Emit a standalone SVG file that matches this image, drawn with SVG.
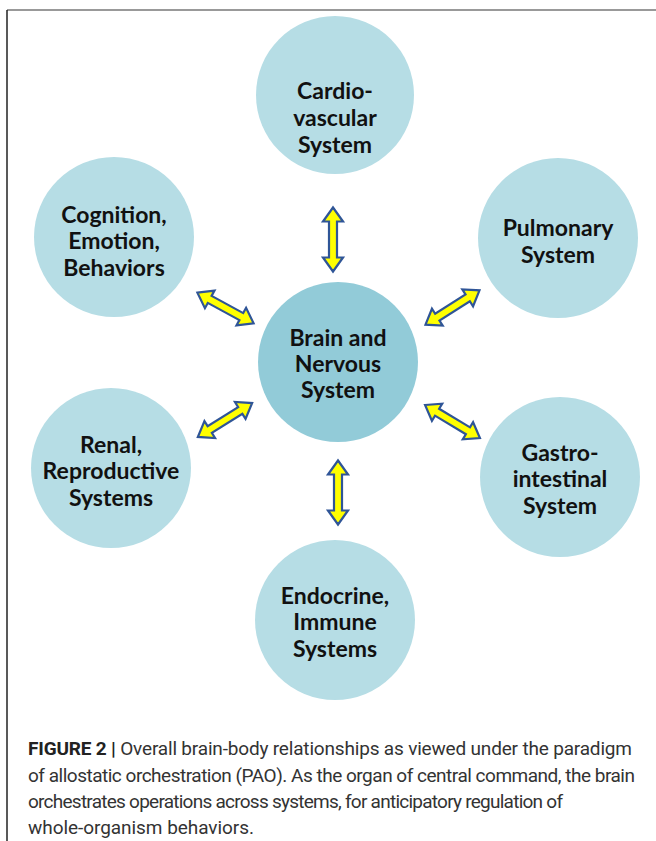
<svg xmlns="http://www.w3.org/2000/svg" width="656" height="841" viewBox="0 0 656 841">
  <style>
    .sys { fill: #b6dde5; }
    .core { fill: #92cbd8; }
    .lbl { font-family: Lato, "Open Sans", "Liberation Sans", sans-serif; font-weight: bold; font-size: 23px; fill: #111; text-anchor: middle; }
    .cap { font-family: Roboto, "Liberation Sans", sans-serif; font-size: 19px; fill: #333; }
    .cap-b { font-weight: bold; fill: #222; }
    .dbl { fill: #ffff00; stroke: #2f5597; stroke-width: 2.2; stroke-linejoin: miter; }
  </style>
  <defs>
    <!-- double-headed block arrow, centred at origin, pointing along x -->
    <path id="dbl" class="dbl" d="M-32,0 L-18,-10 L-18,-4 L18,-4 L18,-10 L32,0 L18,10 L18,4 L-18,4 L-18,10 Z"/>
  </defs>

  <rect x="0" y="0" width="656" height="841" fill="#ffffff"/>
  <!-- frame -->
  <line x1="7" y1="10" x2="656" y2="10" stroke="#777" stroke-width="1.5"/>
  <line x1="7" y1="10" x2="7" y2="841" stroke="#222" stroke-width="1.5"/>

  <g id="cardiovascular">
    <circle class="sys" cx="335" cy="95" r="79"/>
    <text class="lbl"><tspan x="335" y="99">Cardio-</tspan><tspan x="335" y="126">vascular</tspan><tspan x="335" y="153">System</tspan></text>
  </g>
  <g id="cognition">
    <circle class="sys" cx="114" cy="237" r="80"/>
    <text class="lbl"><tspan x="114" y="223">Cognition,</tspan><tspan x="114" y="249">Emotion,</tspan><tspan x="114" y="276">Behaviors</tspan></text>
  </g>
  <g id="pulmonary">
    <circle class="sys" cx="558" cy="238" r="80"/>
    <text class="lbl"><tspan x="558" y="236">Pulmonary</tspan><tspan x="558" y="263">System</tspan></text>
  </g>
  <g id="brain">
    <circle class="core" cx="338" cy="362" r="80"/>
    <text class="lbl"><tspan x="338" y="346">Brain and</tspan><tspan x="338" y="372">Nervous</tspan><tspan x="338" y="398">System</tspan></text>
  </g>
  <g id="renal">
    <circle class="sys" cx="111" cy="468" r="80"/>
    <text class="lbl"><tspan x="111" y="453">Renal,</tspan><tspan x="111" y="479">Reproductive</tspan><tspan x="111" y="506">Systems</tspan></text>
  </g>
  <g id="gastrointestinal">
    <circle class="sys" cx="560" cy="477" r="80"/>
    <text class="lbl"><tspan x="560" y="461">Gastro-</tspan><tspan x="560" y="487">intestinal</tspan><tspan x="560" y="514">System</tspan></text>
  </g>
  <g id="endocrine">
    <circle class="sys" cx="335" cy="620" r="80"/>
    <text class="lbl"><tspan x="335" y="604">Endocrine,</tspan><tspan x="335" y="630">Immune</tspan><tspan x="335" y="657">Systems</tspan></text>
  </g>

  <g id="connectors">
    <use href="#dbl" transform="translate(333,239.5) rotate(90)"/>
    <use href="#dbl" transform="translate(338,492.5) rotate(90)"/>
    <use href="#dbl" transform="translate(225.5,308) rotate(28.6)"/>
    <use href="#dbl" transform="translate(452.5,421.5) rotate(31)"/>
    <use href="#dbl" transform="translate(225,420) rotate(-32)"/>
    <use href="#dbl" transform="translate(452.5,307.5) rotate(-32.5)"/>
  </g>

  <g id="caption">
    <text class="cap" x="28" y="755" textLength="604" lengthAdjust="spacing"><tspan class="cap-b">FIGURE 2</tspan>  <tspan class="cap-b">|</tspan>  Overall brain-body relationships as viewed under the paradigm</text>
    <text class="cap" x="28" y="782" textLength="607" lengthAdjust="spacing">of allostatic orchestration (PAO). As the organ of central command, the brain</text>
    <text class="cap" x="28" y="808" textLength="535" lengthAdjust="spacing">orchestrates operations across systems, for anticipatory regulation of</text>
    <text class="cap" x="28" y="834" textLength="226" lengthAdjust="spacing">whole-organism behaviors.</text>
  </g>
</svg>
